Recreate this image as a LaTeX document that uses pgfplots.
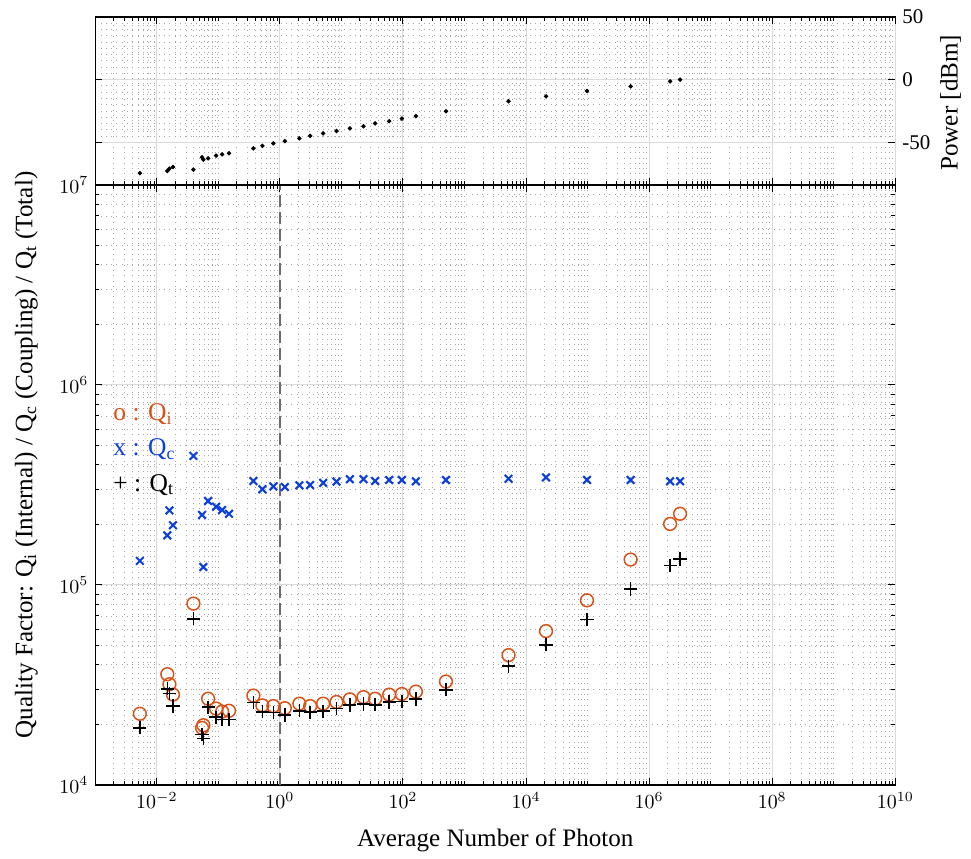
\documentclass[border=0pt]{standalone}
\usepackage{pgfplots}
\pgfplotsset{compat=1.18}
\usepackage{pgfplotstable}
\usepackage{fontspec}
\setmainfont{Liberation Serif}

\definecolor{qiorange}{rgb}{0.85,0.325,0.098}
\definecolor{qcblue}{rgb}{0.05,0.25,0.85}

% n: average photon number, P: power [dBm], Qi / Qc / Qt: quality factors
\pgfplotstableread{
n        P      Qi      Qc      Qt
0.0053   -74.6  2.27e4  1.32e5  1.93e4
0.0148   -72.8  3.58e4  1.77e5  3.03e4
0.0160   -71.0  3.19e4  2.36e5  2.87e4
0.0183   -69.6  2.83e4  1.99e5  2.48e4
0.0393   -71.7  8.07e4  4.42e5  6.78e4
0.0543   -61.9  1.93e4  2.24e5  1.79e4
0.0570   -63.8  1.99e4  1.23e5  1.71e4
0.0681   -62.7  2.70e4  2.63e5  2.45e4
0.0918   -60.6  2.41e4  2.46e5  2.18e4
0.115    -59.5  2.33e4  2.37e5  2.13e4
0.149    -58.7  2.35e4  2.27e5  2.13e4
0.371    -54.8  2.80e4  3.31e5  2.58e4
0.519    -52.7  2.50e4  3.01e5  2.32e4
0.783    -50.8  2.48e4  3.11e5  2.30e4
1.20     -49.0  2.42e4  3.09e5  2.24e4
2.07     -46.8  2.55e4  3.15e5  2.35e4
3.10     -44.8  2.48e4  3.16e5  2.31e4
5.04     -42.9  2.55e4  3.24e5  2.34e4
8.30     -41.0  2.60e4  3.29e5  2.41e4
13.7     -38.9  2.68e4  3.38e5  2.51e4
22.8     -37.1  2.75e4  3.38e5  2.54e4
35.3     -34.9  2.70e4  3.31e5  2.52e4
59.7     -33.1  2.83e4  3.35e5  2.60e4
95.9     -31.0  2.85e4  3.35e5  2.61e4
162      -29.1  2.93e4  3.30e5  2.69e4
499      -25.2  3.29e4  3.35e5  2.99e4
5190     -17.2  4.46e4  3.40e5  3.93e4
2.11e4   -13.3  5.88e4  3.45e5  5.02e4
9.77e4   -9.0   8.38e4  3.35e5  6.73e4
5.0e5    -5.3   1.34e5  3.35e5  9.55e4
2.19e6   -1.3   2.02e5  3.30e5  1.25e5
3.18e6   0.0    2.27e5  3.30e5  1.35e5
}\qdata

\begin{document}
\begin{tikzpicture}
% photon number versus quality factors
\begin{axis}[
  scale only axis, width=400bp, height=300bp, at={(0,0)},
  xmode=log, ymode=log,
  xmin=1e-3, xmax=1e10, ymin=1e4, ymax=1e7,
  xtick={1e-3,1e-2,1e-1,1e0,1e1,1e2,1e3,1e4,1e5,1e6,1e7,1e8,1e9,1e10},
  xticklabels={},
  major x tick style={draw=none},
  extra x ticks={1e-2,1e0,1e2,1e4,1e6,1e8,1e10},
  extra x tick style={grid=major, x grid style={gray!28, line width=0.5bp, solid},
    major x tick style={draw=black}},
  ytick={1e4,1e5,1e6,1e7},
  grid=both,
  major grid style={gray!28, line width=0.5bp, solid},
  minor grid style={gray!70, line width=0.45bp, dash pattern=on 0.45bp off 2.2bp},
  x grid style={gray!70, line width=0.45bp, dash pattern=on 0.45bp off 2.2bp},
  axis line style={line width=0.6bp},
  major tick length=3.5bp, minor tick length=2bp,
  tick style={black, line width=0.5bp},
  tick align=inside,
  tick label style={font=\fontsize{9.7}{11}\selectfont},
  label style={font=\fontsize{12.6}{14}\selectfont},
  xlabel={Average Number of Photon},
  ylabel={Quality Factor: Q\textsubscript{i} (Internal) / Q\textsubscript{c} (Coupling) / Q\textsubscript{t} (Total)},
  xlabel style={at={(axis description cs:0.5,-0.092)}, anchor=center},
  ylabel style={at={(axis description cs:-0.086,0.55)}, anchor=center},
]
\addplot[gray!85!black, line width=0.6bp, dash pattern=on 6bp off 2.5bp, forget plot]
  coordinates {(1,1e4) (1,1e7)};
\addplot[only marks, mark=x, mark size=2.7bp, qcblue, line width=1.05bp]
  table[x=n, y=Qc] {\qdata};
\addplot[only marks, mark=o, mark size=3.2bp, qiorange, line width=0.75bp]
  table[x=n, y=Qi] {\qdata};
\addplot[only marks, mark=+, mark size=3.3bp, black, line width=0.8bp]
  table[x=n, y=Qt] {\qdata};
\node[anchor=base west, inner sep=0pt, text=qiorange, font=\fontsize{12.8}{14}\selectfont]
  at (axis cs:0.00194,661000) {o : Q\textsubscript{i}};
\node[anchor=base west, inner sep=0pt, text=qcblue, font=\fontsize{12.8}{14}\selectfont]
  at (axis cs:0.00194,442000) {x : Q\textsubscript{c}};
\node[anchor=base west, inner sep=0pt, text=black, font=\fontsize{12.8}{14}\selectfont]
  at (axis cs:0.00194,295000) {+ : Q\textsubscript{t}};
\end{axis}

% photon number versus drive power
\begin{axis}[
  scale only axis, width=400bp, height=84bp, at={(0,300bp)},
  xmode=log,
  xmin=1e-3, xmax=1e10, ymin=-84, ymax=50,
  xtick={1e-3,1e-2,1e-1,1e0,1e1,1e2,1e3,1e4,1e5,1e6,1e7,1e8,1e9,1e10},
  xticklabels={},
  major x tick style={draw=none},
  extra x ticks={1e-2,1e0,1e2,1e4,1e6,1e8,1e10},
  extra x tick labels={},
  extra x tick style={grid=major, x grid style={gray!28, line width=0.5bp, solid},
    major x tick style={draw=black}},
  ytick={-50,0,50}, yticklabels={-50,0,50},
  minor y tick num=9,
  minor y tick style={draw=none},
  grid=both,
  major grid style={gray!28, line width=0.5bp, solid},
  minor grid style={gray!70, line width=0.45bp, dash pattern=on 0.45bp off 2.2bp},
  x grid style={gray!70, line width=0.45bp, dash pattern=on 0.45bp off 2.2bp},
  axis line style={line width=0.6bp},
  major tick length=3.5bp, minor tick length=2bp,
  tick style={black, line width=0.5bp},
  tick align=inside,
  yticklabel pos=right,
  yticklabel style={font=\fontsize{10.5}{12}\selectfont},
  label style={font=\fontsize{12.6}{14}\selectfont},
  ylabel={Power [dBm]},
  ylabel style={at={(axis description cs:1.069,0.49)}, anchor=center},
]
\addplot[only marks, mark=*, mark size=0.9bp, black]
  table[x=n, y=P] {\qdata};
\end{axis}

\pgfresetboundingbox
\path (-47.65bp,-37bp) rectangle (437.85bp,392.5bp);
\end{tikzpicture}
\end{document}
